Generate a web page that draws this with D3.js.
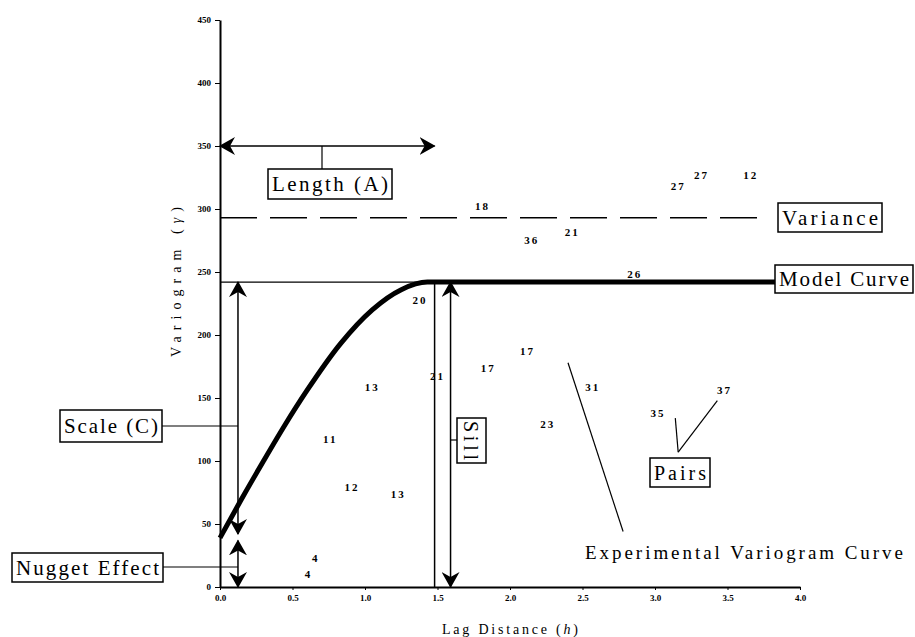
<!DOCTYPE html>
<html>
<head>
<meta charset="utf-8">
<script src="https://cdn.jsdelivr.net/npm/d3@7"></script>
<style>
  body { margin: 0; background: #fff; }
  text { font-family: "Liberation Serif", "DejaVu Serif", serif; fill: #000; }
  .tick text { font-size: 9px; font-weight: bold; fill: #000; }
</style>
</head>
<body>
<div class="chart"></div>
<script>
// experimental variogram points (lag, gamma) and number of pairs used
var pairLag   = [0.66, 0.61, 0.91, 1.23, 0.76, 1.05, 1.50, 1.38, 1.85, 2.12, 2.57, 2.26, 1.81, 2.15, 2.43, 2.86, 3.16, 3.32, 3.66, 3.02, 3.48];
var pairGamma = [23, 10, 79, 74, 117, 159, 167, 228, 174, 187, 159, 129, 302, 275, 282, 248, 318, 327, 327, 138, 156];
var pairCount = [4, 4, 12, 13, 11, 13, 21, 20, 17, 17, 31, 23, 18, 36, 21, 26, 27, 27, 12, 35, 37];

// model curve
var modelLag   = [0, 0.14, 0.3, 0.45, 0.6, 0.83, 1.05, 1.25, 1.43, 3.83];
var modelGamma = [39, 68, 100, 129, 156, 193, 220, 236, 242, 242];

// reference values
var nugget = 39;
var sill = 242;
var variance = 293;
var rangeLag = 1.48;

var xTicks = [0, 0.5, 1, 1.5, 2, 2.5, 3, 3.5, 4];
var yTicks = [0, 50, 100, 150, 200, 250, 300, 350, 400, 450];

var svgWidth = 915, svgHeight = 637;
var svg = d3.select(".chart").append("svg")
  .attr("width", svgWidth)
  .attr("height", svgHeight);

var x = d3.scaleLinear().domain([0, 4]).range([220, 800]);
var y = d3.scaleLinear().domain([0, 450]).range([587, 20]);

// arrowhead
svg.append("defs").append("marker")
  .attr("id", "arrow")
  .attr("markerUnits", "userSpaceOnUse")
  .attr("markerWidth", 16).attr("markerHeight", 18)
  .attr("refX", 15).attr("refY", 9)
  .attr("orient", "auto-start-reverse")
  .append("path")
  .attr("d", "M0,0 L16,9 L0,18 L5,9 Z")
  .attr("fill", "#000");

// axes
var xAxis = d3.axisBottom(x).tickValues(xTicks).tickFormat(d3.format(".1f")).tickSizeInner(3).tickSizeOuter(0);
var yAxis = d3.axisLeft(y).tickValues(yTicks).tickSizeInner(5).tickSizeOuter(0);

var gx = svg.append("g").attr("transform", "translate(0," + y(0) + ")").call(xAxis);
var gy = svg.append("g").attr("transform", "translate(" + x(0) + ",0)").call(yAxis);
gx.select(".domain").attr("stroke-width", 2);
gy.select(".domain").attr("stroke-width", 2);
gx.selectAll(".tick text").attr("dy", "0.9em");
gy.selectAll(".tick text").attr("dx", "-1");

svg.append("text")
  .attr("x", 510).attr("y", 634)
  .attr("text-anchor", "middle")
  .attr("textLength", 136)
  .style("font-size", "14px")
  .html("Lag Distance (<tspan font-style='italic'>h</tspan>)");

svg.append("text")
  .attr("transform", "translate(181,282) rotate(-90)")
  .attr("text-anchor", "middle")
  .attr("textLength", 150)
  .style("font-size", "14px")
  .html("Variogram (<tspan font-style='italic'>γ</tspan>)");

// variance dashed line
svg.append("line")
  .attr("x1", x(0)).attr("x2", x(3.74))
  .attr("y1", y(variance)).attr("y2", y(variance))
  .attr("stroke", "#000").attr("stroke-width", 1.5)
  .attr("stroke-dasharray", "37,13");

// sill / range guides
svg.append("line")
  .attr("x1", x(0)).attr("x2", x(3.83))
  .attr("y1", y(sill)).attr("y2", y(sill))
  .attr("stroke", "#000").attr("stroke-width", 1.2);

svg.append("line")
  .attr("x1", x(rangeLag)).attr("x2", x(rangeLag))
  .attr("y1", y(sill)).attr("y2", y(0))
  .attr("stroke", "#000").attr("stroke-width", 1.5);

// model curve
var modelData = modelLag.map(function(d, i) { return [d, modelGamma[i]]; });
var line = d3.line()
  .x(d => x(d[0]))
  .y(d => y(d[1]))
  .curve(d3.curveMonotoneX);

svg.append("path")
  .datum(modelData)
  .attr("d", line)
  .attr("fill", "none")
  .attr("stroke", "#000")
  .attr("stroke-width", 5);

// double arrows
function dblArrow(x1, y1, x2, y2) {
  svg.append("line")
    .attr("x1", x1).attr("y1", y1).attr("x2", x2).attr("y2", y2)
    .attr("stroke", "#000").attr("stroke-width", 1.5)
    .attr("marker-start", "url(#arrow)")
    .attr("marker-end", "url(#arrow)");
}
dblArrow(x(0), y(350), x(rangeLag), y(350));          // length
dblArrow(x(1.59), y(sill), x(1.59), y(0));            // sill
dblArrow(x(0.124), y(sill), x(0.124), y(nugget + 3)); // scale
dblArrow(x(0.124), y(nugget - 2), x(0.124), y(0));    // nugget

// pair counts
svg.selectAll(".pair")
  .data(pairCount)
  .enter()
  .append("text")
  .attr("class", "pair")
  .attr("x", (d, i) => x(pairLag[i]))
  .attr("y", (d, i) => y(pairGamma[i]))
  .attr("dy", "0.35em")
  .attr("text-anchor", "middle")
  .style("font-size", "11px")
  .style("font-weight", "bold")
  .style("letter-spacing", "2px")
  .text(d => d);

// labelled boxes
function box(x0, y0, w, h, label, size) {
  svg.append("rect")
    .attr("x", x0).attr("y", y0).attr("width", w).attr("height", h)
    .attr("fill", "#fff").attr("stroke", "#000").attr("stroke-width", 1.5);
  svg.append("text")
    .attr("x", x0 + 4).attr("y", y0 + h / 2)
    .attr("dy", "0.35em")
    .attr("textLength", w - 8)
    .attr("lengthAdjust", "spacing")
    .style("font-size", size + "px")
    .text(label);
}

function link(x1, y1, x2, y2) {
  svg.append("line")
    .attr("x1", x1).attr("y1", y1).attr("x2", x2).attr("y2", y2)
    .attr("stroke", "#000").attr("stroke-width", 1.2);
}

link(322, y(350), 322, 169);
box(268, 169, 124, 30, "Length (A)", 21);

box(778, 203, 104, 29, "Variance", 21);
box(775, 265, 138, 28, "Model Curve", 21);

link(162, 426, x(0.124), 426);
box(60, 410, 102, 32, "Scale (C)", 21);

link(163, 567, x(0.124), 567);
box(12, 553, 151, 29, "Nugget Effect", 21);

// sill box (rotated)
link(x(1.59), 440, 457, 440);
svg.append("rect")
  .attr("x", 457).attr("y", 418).attr("width", 29).attr("height", 45)
  .attr("fill", "#fff").attr("stroke", "#000").attr("stroke-width", 1.5);
svg.append("text")
  .attr("transform", "translate(471,421) rotate(90)")
  .attr("dy", "0.35em")
  .attr("textLength", 39)
  .style("font-size", "20px")
  .text("Sill");

// pairs pointer
link(x(3.16), y(107), x(3.14), y(134));
link(x(3.16), y(107), x(3.43), y(148));
box(650, 458, 60, 29, "Pairs", 20);

// experimental curve pointer
link(x(2.40), y(178), x(2.78), y(44));
svg.append("text")
  .attr("x", 585).attr("y", 552)
  .attr("dy", "0.35em")
  .attr("textLength", 318)
  .attr("lengthAdjust", "spacing")
  .style("font-size", "19px")
  .text("Experimental Variogram Curve");
</script>
</body>
</html>
